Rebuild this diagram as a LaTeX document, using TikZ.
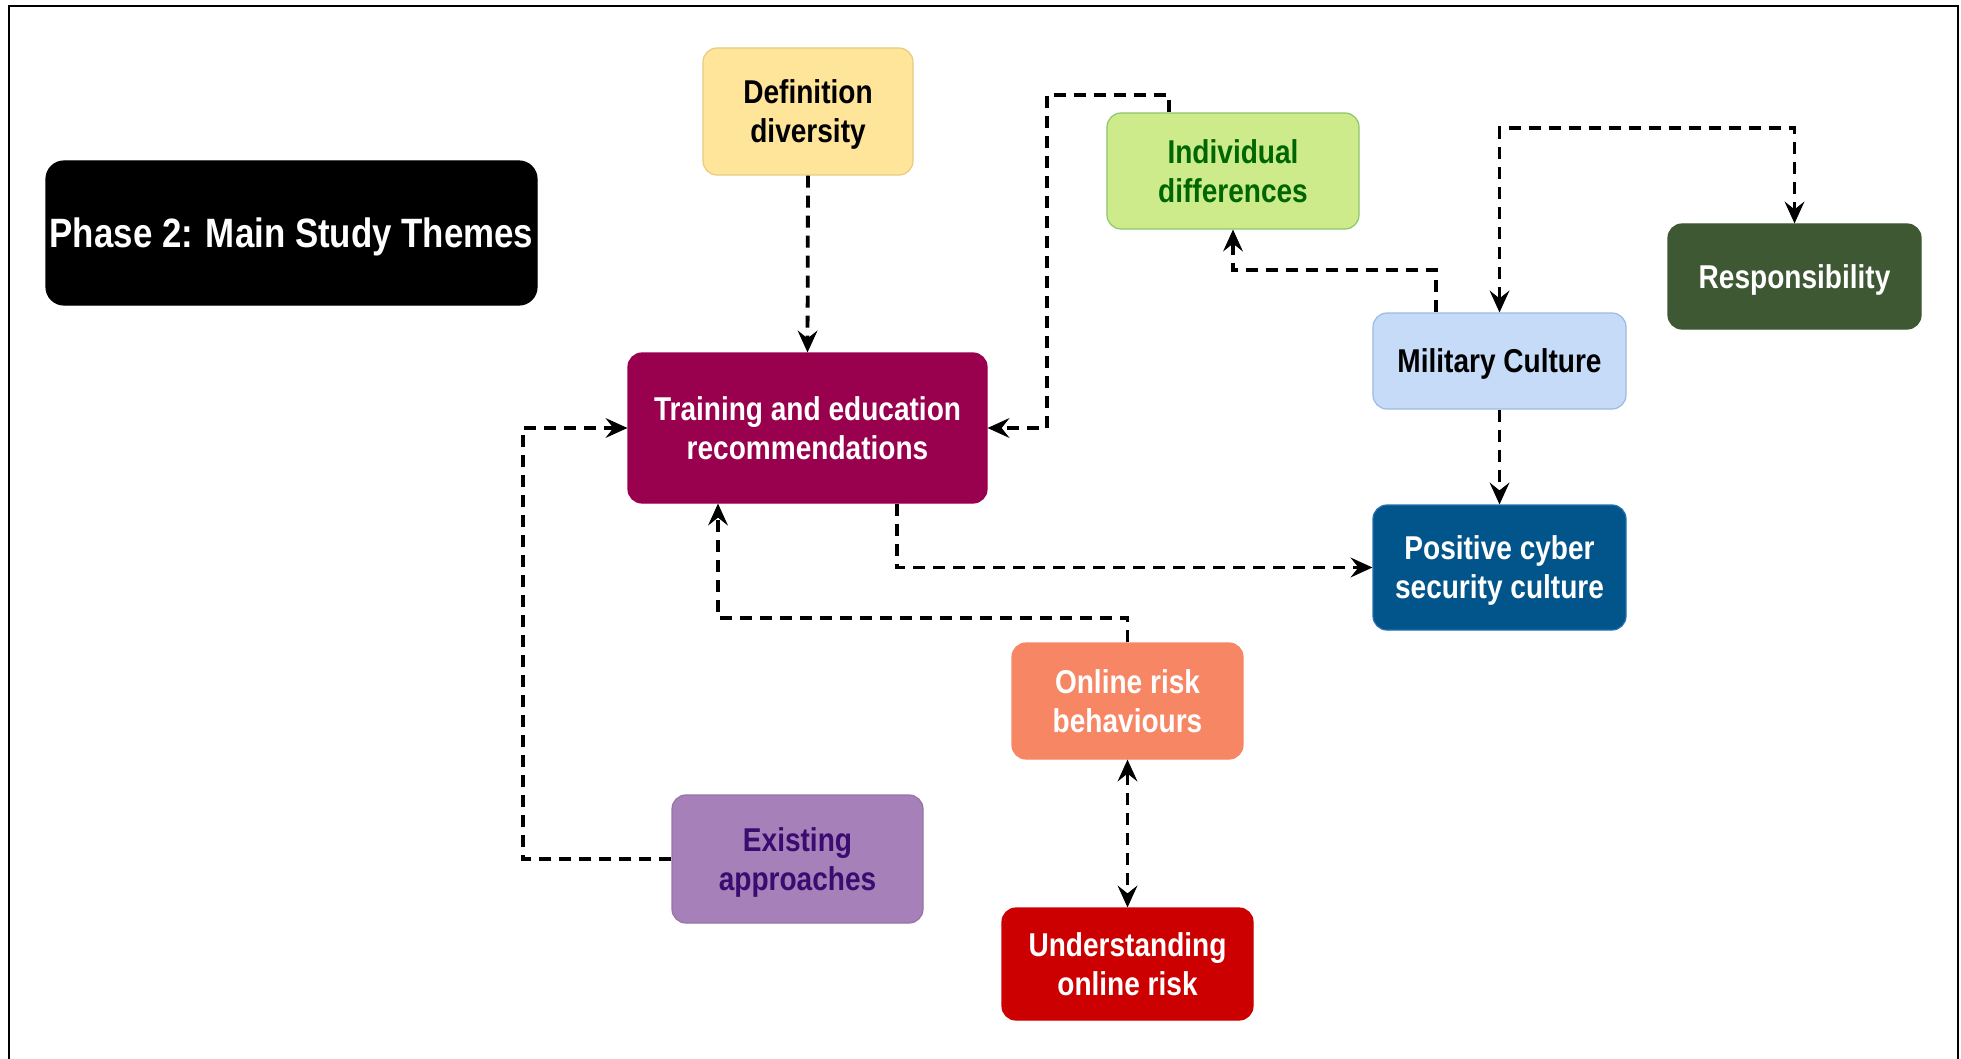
\documentclass[tikz,border=0pt]{standalone}
\usepackage{fontspec}
\setmainfont{Liberation Sans}[FakeStretch=0.85]
\usetikzlibrary{arrows.meta}

\definecolor{defFill}{HTML}{FFE599}
\definecolor{defLine}{HTML}{E6CC80}
\definecolor{trainFill}{HTML}{99004D}
\definecolor{indFill}{HTML}{CDEB8B}
\definecolor{indLine}{HTML}{8CC66B}
\definecolor{indText}{HTML}{006600}
\definecolor{respFill}{HTML}{3E5833}
\definecolor{milFill}{HTML}{C6DBF8}
\definecolor{milLine}{HTML}{9DB9E2}
\definecolor{posFill}{HTML}{02558A}
\definecolor{posLine}{HTML}{2270B0}
\definecolor{onlFill}{HTML}{F78665}
\definecolor{exFill}{HTML}{A680B8}
\definecolor{exLine}{HTML}{9673A6}
\definecolor{exText}{HTML}{3A0B70}
\definecolor{undFill}{HTML}{CC0000}

\begin{document}
\begin{tikzpicture}[x=1pt,y=-1pt,
  >={Stealth[length=22pt,width=20pt,inset=8pt,line width=1pt]},
  theme/.style={rectangle, rounded corners=14pt, align=center, inner sep=0pt,
    text depth=0pt, line width=1.2pt, font=\fontsize{33}{39}\selectfont\bfseries},
  link/.style={line width=3.8pt, dash pattern=on 12pt off 8pt, ->},
  duallink/.style={link, <->}
]
\useasboundingbox (0,0) rectangle (1961,1059);

% outer frame, open at the bottom
\draw[line width=2.5pt] (9,1059) -- (9,6) -- (1958,6) -- (1958,1059);

% title
\node[theme, fill=black, draw=black, text=white, rounded corners=18pt,
  minimum width=491pt, minimum height=144pt,
  font=\fontsize{41}{48}\selectfont\bfseries] (phase) at (291.5,233) {Phase 2: Main Study Themes};

% themes
\node[theme, fill=defFill, draw=defLine, text=black, minimum width=210pt, minimum height=127pt]
  (defn) at (808,111.5) {Definition\\diversity};
\node[theme, fill=trainFill, draw=trainFill, text=white, minimum width=359pt, minimum height=150pt]
  (train) at (807.5,428) {Training and education\\recommendations};
\node[theme, fill=indFill, draw=indLine, text=indText, minimum width=252pt, minimum height=116pt]
  (indiv) at (1233,171) {Individual\\differences};
\node[theme, fill=respFill, draw=respFill, text=white, minimum width=253pt, minimum height=105pt]
  (resp) at (1794.5,276.5) {Responsibility};
\node[theme, fill=milFill, draw=milLine, text=black, minimum width=253pt, minimum height=96pt]
  (mil) at (1499.5,361) {Military Culture};
\node[theme, fill=posFill, draw=posLine, text=white, minimum width=253pt, minimum height=125pt]
  (pos) at (1499.5,567.5) {Positive cyber\\security culture};
\node[theme, fill=onlFill, draw=onlFill, text=white, minimum width=231pt, minimum height=116pt]
  (online) at (1127.5,701) {Online risk\\behaviours};
\node[theme, fill=exFill, draw=exLine, text=exText, minimum width=251pt, minimum height=128pt]
  (exist) at (797.5,859) {Existing\\approaches};
\node[theme, fill=undFill, draw=undFill, text=white, minimum width=251pt, minimum height=112pt]
  (under) at (1127.5,964) {Understanding\\online risk};

% connectors
\draw[link] (defn.south) -- (train.north);
\draw[link] (indiv.north -| 1169,0) -- (1169,95) -- (1047,95) -- (1047,428) -- (train.east);
\draw[link] (mil.north -| 1436,0) -- (1436,270) -- (1233,270) -- (indiv.south);
\draw[duallink] (mil.north) -- (1499.5,128) -- (1794.5,128) -- (resp.north);
\draw[link] (mil.south) -- (pos.north);
\draw[link] (train.south -| 897,0) -- (897,567.5) -- (pos.west);
\draw[link] (online.north) -- (1127.5,618) -- (718,618) -- (train.south -| 718,0);
\draw[duallink] (online.south) -- (under.north);
\draw[link] (exist.west) -- (523,859) -- (523,428) -- (train.west);
\end{tikzpicture}
\end{document}
